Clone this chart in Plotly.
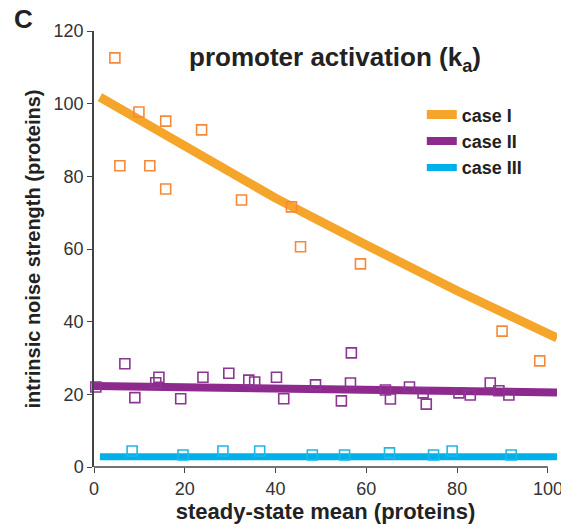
import plotly.graph_objects as go

# ---------------- data ----------------
case1_x = [4.6, 5.7, 9.9, 12.3, 15.8, 15.8, 23.7, 32.5, 43.5, 45.5, 58.7, 89.9, 98.2]
case1_y = [112.6, 82.9, 97.7, 82.9, 95.2, 76.5, 92.8, 73.5, 71.6, 60.6, 55.9, 37.4, 29.2]

case2_x = [0.4, 6.8, 9.0, 13.6, 14.3, 19.1, 24.0, 29.7, 34.1, 35.4, 40.2, 41.8, 48.8,
           54.5, 56.5, 56.7, 64.2, 65.3, 69.5, 72.5, 73.2, 80.4, 82.9, 87.3, 89.2, 91.4]
case2_y = [22.0, 28.4, 19.1, 23.2, 24.7, 18.8, 24.7, 25.8, 23.9, 23.4, 24.7, 18.8, 22.6,
           18.2, 23.1, 31.4, 21.2, 18.7, 22.0, 20.4, 17.3, 20.4, 19.8, 23.1, 21.0, 19.8]

case3_x = [8.4, 19.6, 28.4, 36.5, 48.1, 55.2, 65.1, 74.8, 78.9, 91.9]
case3_y = [4.4, 3.3, 4.4, 4.4, 3.3, 3.3, 3.9, 3.3, 4.4, 3.3]

# theory curves
line1_x = [1.3, 20, 40, 60, 80, 102]
line1_y = [101.8, 88.2, 74.0, 61.1, 48.5, 35.5]
line2_x = [0, 50, 102]
line2_y = [22.3, 21.3, 20.5]
line3_x = [1.3, 102]
line3_y = [2.8, 2.8]

series_names = ["case I", "case II", "case III"]
x_ticks = [0, 20, 40, 60, 80, 100]
y_ticks = [0, 20, 40, 60, 80, 100, 120]

# ---------------- style ----------------
FONT = "Liberation Sans, Arial, Helvetica, sans-serif"
line_colors = ["#F5A52A", "#8E2A8E", "#00B0E8"]
marker_colors = ["#F7883A", "#8C3592", "#1EB8E6"]
line_widths = [9, 8, 7]
X_RANGE = [0, 102]
X_AXIS_END = 100

# page body has an 8px margin, so the figure is sized to fit the 569x529 window
FIG_W, FIG_H = 561, 521
M_L, M_R, M_T, M_B = 86, 12, 23, 62
PLOT_W = FIG_W - M_L - M_R
PLOT_H = FIG_H - M_T - M_B

fig = go.Figure()

for (lx, ly), name, col, w in zip([(line1_x, line1_y), (line2_x, line2_y), (line3_x, line3_y)],
                                  series_names, line_colors, line_widths):
    fig.add_trace(go.Scatter(x=lx, y=ly, mode="lines", name="<b>" + name + "</b>",
                             line=dict(color=col, width=w)))

for (px, py), name, col in zip([(case1_x, case1_y), (case2_x, case2_y), (case3_x, case3_y)],
                               series_names, marker_colors):
    fig.add_trace(go.Scatter(x=px, y=py, mode="markers", name=name, showlegend=False,
                             cliponaxis=False,
                             marker=dict(symbol="square-open", size=10, color=col,
                                         line=dict(width=1.6, color=col))))

fig.update_layout(
    width=FIG_W, height=FIG_H,
    margin=dict(l=M_L, r=M_R, t=M_T, b=M_B, autoexpand=False),
    paper_bgcolor="white", plot_bgcolor="white",
    font=dict(family=FONT, color="#222"),
    title=dict(text="<b>promoter activation (k<sub>a</sub>)</b>",
               x=327 / FIG_W, xanchor="center", xref="container",
               y=1 - 49 / FIG_H, yanchor="middle", yref="container",
               font=dict(size=26, color="#222", family=FONT)),
    legend=dict(x=0.708, y=0.85, xanchor="left", yanchor="top",
                bgcolor="rgba(0,0,0,0)", borderwidth=0,
                font=dict(size=18, color="#222", family=FONT),
                itemwidth=30, tracegroupgap=0),
    showlegend=True,
)

fig.update_xaxes(
    range=X_RANGE, tickvals=x_ticks, ticktext=[str(v) for v in x_ticks],
    showgrid=False, zeroline=False, showline=False,
    ticks="outside", ticklen=5, tickwidth=1.3, tickcolor="#444",
    tickfont=dict(size=18, color="#333", family=FONT),
    title=dict(text="<b>steady-state mean (proteins)</b>", standoff=4,
               font=dict(size=22, color="#222", family=FONT)),
)
fig.update_yaxes(
    range=[0, 120], tickvals=y_ticks, ticktext=[str(v) for v in y_ticks],
    showgrid=False, zeroline=False, showline=True, linecolor="#444", linewidth=1.5,
    ticks="outside", ticklen=5, tickwidth=1.3, tickcolor="#444",
    tickfont=dict(size=18, color="#333", family=FONT),
    title=dict(text="<b>intrinsic noise strength (proteins)</b>", standoff=8,
               font=dict(size=20, color="#222", family=FONT)),
)

# x axis line only spans 0..100 (data curves run slightly past it)
fig.add_shape(type="line", xref="paper", yref="paper",
              x0=0, x1=(X_AXIS_END - X_RANGE[0]) / (X_RANGE[1] - X_RANGE[0]), y0=0, y1=0,
              line=dict(color="#444", width=1.5))

# panel letter
fig.add_annotation(text="<b>C</b>", xref="paper", yref="paper",
                   x=(4 - M_L) / PLOT_W, y=1 + 12 / PLOT_H, xanchor="left", yanchor="middle",
                   showarrow=False, font=dict(size=26, color="#222", family=FONT))

fig.write_html("out.html")
